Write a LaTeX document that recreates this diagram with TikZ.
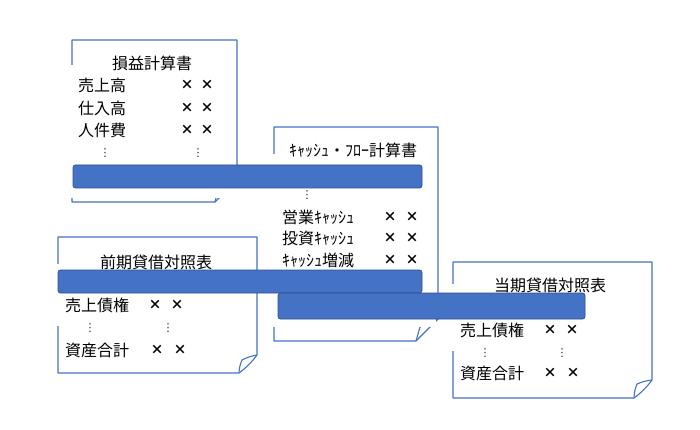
\documentclass[tikz,border=0pt]{standalone}
\usepackage{fontspec}
\setmainfont{Noto Sans CJK JP}
\newfontfamily\dejavu{DejaVu Sans}
\definecolor{docblue}{HTML}{4472C4}
\definecolor{barblue}{HTML}{4472C4}
\definecolor{bardark}{HTML}{2F528F}
\begin{document}
\begin{tikzpicture}[x=1pt,y=-1pt,
  docline/.style={draw=docblue, line width=1.1pt, line join=round},
  cover/.style={fill=white, draw=none},
  lbl/.style={anchor=west, inner sep=0pt, font=\fontsize{16}{19}\selectfont},
  ttl/.style={inner sep=0pt, font=\fontsize{16}{19}\selectfont},
  xmk/.style={inner sep=0pt, font=\fontsize{13}{16}\selectfont\bfseries},
  vdt/.style={inner sep=0pt, font=\dejavu\fontsize{11}{13}\selectfont, text=black!85},
  redact/.style={fill=barblue, draw=bardark, line width=0.8pt, rounded corners=2.5pt}
]
\useasboundingbox[fill=white] (0,0) rectangle (700,430);

% ---------- page outlines ----------
% P/L
\draw[docline] (72,40) -- (237,40) -- (237,180) -- (215,202) -- (72,202) -- cycle;
\draw[docline] (215,202) -- (219,186) -- (237,180);
% Cash flow
\draw[docline] (274,127) -- (438,127) -- (438,319) -- (416,341) -- (274,341) -- cycle;
\draw[docline] (416,341) -- (420,327) -- (438,319);
% previous BS
\draw[docline] (58,237) -- (257,237) -- (257,355) to[bend left=8] (239,373) -- (58,373) -- cycle;
\draw[docline] (239,373) to[bend left=10] (242,360) to[bend left=8] (257,355);
% current BS
\draw[docline] (453,262) -- (652,262) -- (652,380) to[bend left=8] (634,398) -- (453,398) -- cycle;
\draw[docline] (634,398) to[bend left=10] (637,384) to[bend left=8] (652,380);

% ---------- white text boxes ----------
\fill[cover] (70,65) rectangle (236,198);
\fill[cover] (271,154) rectangle (436,327);
\fill[cover] (56,264) rectangle (256,326);
\fill[cover] (451,284) rectangle (650,351);

% ---------- P/L text ----------
\node[ttl] (pltitle) at (152,63) {損益計算書};
\node[lbl] (pl1) at (78,85) {売上高};
\node[lbl] (pl2) at (78,108) {仕入高};
\node[lbl] (pl3) at (78,130) {人件費};
\node[xmk] (pl1a) at (187,85) {×};  \node[xmk] (pl1b) at (207,85) {×};
\node[xmk] (pl2a) at (187,108) {×}; \node[xmk] (pl2b) at (207,108) {×};
\node[xmk] (pl3a) at (187,130) {×}; \node[xmk] (pl3b) at (207,130) {×};
\node[vdt] (pld1) at (105,153) {⋮};
\node[vdt] (pld2) at (198,153) {⋮};

% ---------- Cash flow text ----------
\node[ttl] (cftitle) at (353,150) {ｷｬｯｼｭ・ﾌﾛｰ計算書};
\node[vdt] (cfd1) at (307,195) {⋮};
\node[lbl] (cf1) at (282,217) {営業ｷｬｯｼｭ};
\node[lbl] (cf2) at (282,238) {投資ｷｬｯｼｭ};
\node[lbl] (cf3) at (282,260) {ｷｬｯｼｭ増減};
\node[xmk] (cf1a) at (390,217) {×}; \node[xmk] (cf1b) at (412,217) {×};
\node[xmk] (cf2a) at (390,238) {×}; \node[xmk] (cf2b) at (412,238) {×};
\node[xmk] (cf3a) at (390,260) {×}; \node[xmk] (cf3b) at (412,260) {×};

% ---------- previous BS text ----------
\node[ttl] (pbtitle) at (156,262) {前期貸借対照表};
\node[lbl] (pb1) at (65,305) {売上債権};
\node[xmk] (pb1a) at (155,305) {×}; \node[xmk] (pb1b) at (177,305) {×};
\node[vdt] (pbd1) at (90,328) {⋮};
\node[vdt] (pbd2) at (168,328) {⋮};
\node[lbl] (pb2) at (65,350) {資産合計};
\node[xmk] (pb2a) at (157,350) {×}; \node[xmk] (pb2b) at (180,350) {×};

% ---------- current BS text ----------
\node[ttl] (cbtitle) at (550,285) {当期貸借対照表};
\node[lbl] (cb1) at (460,330) {売上債権};
\node[xmk] (cb1a) at (550,330) {×}; \node[xmk] (cb1b) at (572,330) {×};
\node[vdt] (cbd1) at (485,353) {⋮};
\node[vdt] (cbd2) at (562,353) {⋮};
\node[lbl] (cb2) at (460,373) {資産合計};
\node[xmk] (cb2a) at (550,373) {×}; \node[xmk] (cb2b) at (573,373) {×};

% ---------- redaction bars ----------
\draw[redact] (73,165) rectangle (422,188);
\draw[redact] (58,270) rectangle (422,293);
\draw[redact] (278,293) rectangle (585,319);
\end{tikzpicture}
\end{document}
